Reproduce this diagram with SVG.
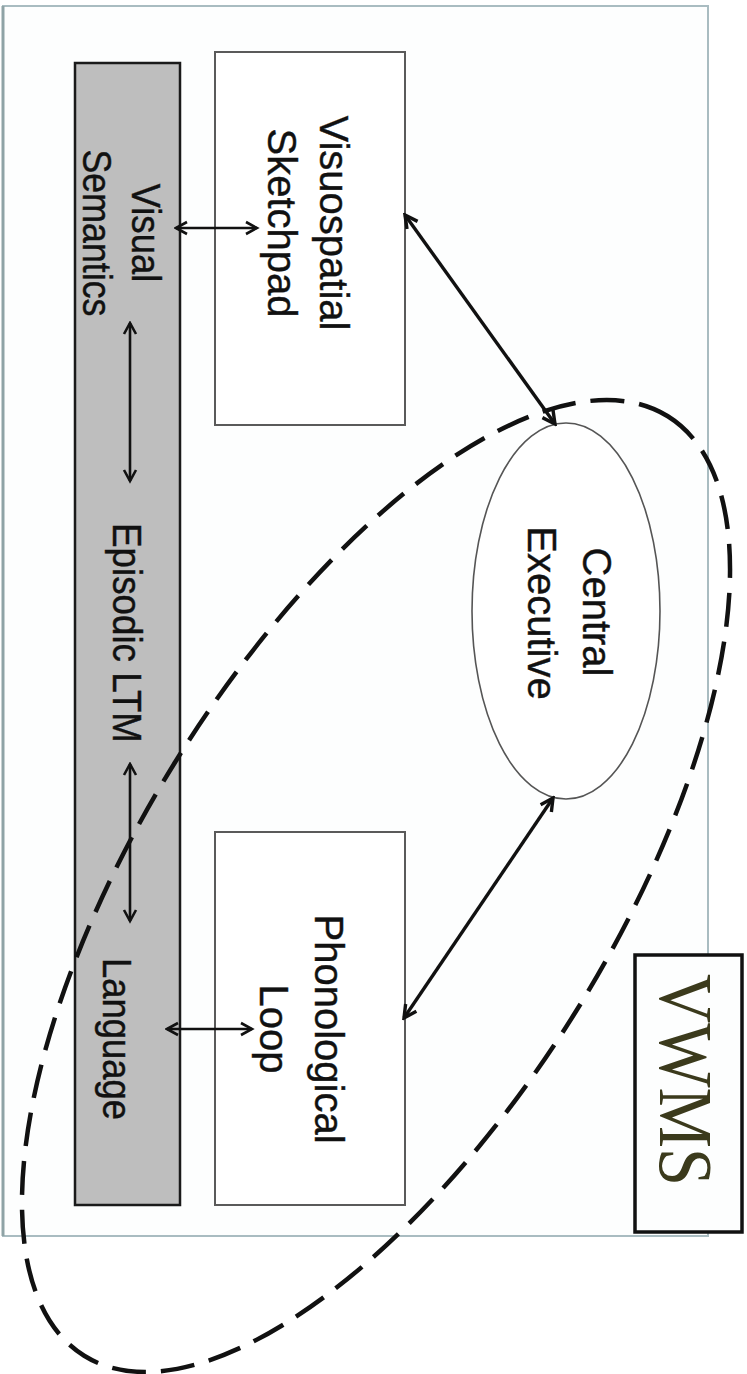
<svg xmlns="http://www.w3.org/2000/svg" width="747" height="1374" viewBox="0 0 747 1374">
<style>
.t{font-family:"Liberation Sans",Arial,sans-serif;font-size:40px;fill:#111;stroke:#111;stroke-width:0.4;text-anchor:middle}
.box{fill:#ffffff;stroke:#5a5a5a;stroke-width:2}
.conn{stroke:#111;fill:none}
</style>
<defs>
<marker id="ah" viewBox="0 0 16 16" refX="13.5" refY="8" markerWidth="16" markerHeight="16" orient="auto-start-reverse" markerUnits="userSpaceOnUse">
<path d="M2.5,2 L13.5,8 L2.5,14" fill="none" stroke="#111" stroke-width="2.6"/>
</marker>
<marker id="ahb" viewBox="0 0 18 18" refX="15.5" refY="9" markerWidth="18" markerHeight="18" orient="auto-start-reverse" markerUnits="userSpaceOnUse">
<path d="M3,2.5 L15.5,9 L3,15.5" fill="none" stroke="#111" stroke-width="3.4"/>
</marker>
</defs>
<rect width="747" height="1374" fill="#ffffff"/>
<g id="frame">
<rect x="3" y="6" width="705" height="1230" fill="#fdfefe" stroke="#a9bcc1" stroke-width="2"/>
<line x1="3" y1="6" x2="3" y2="1236" stroke="#8fa3a6" stroke-width="3"/>
</g>
<g id="ltm">
<rect x="75" y="63" width="105" height="1142" fill="#bebebe" stroke="#1a1a1a" stroke-width="2.5"/>
<text class="t" textLength="99" lengthAdjust="spacingAndGlyphs" transform="translate(132,233) rotate(90)">Visual</text>
<text class="t" textLength="167" lengthAdjust="spacingAndGlyphs" transform="translate(83,233) rotate(90)">Semantics</text>
<text class="t" textLength="220" lengthAdjust="spacingAndGlyphs" transform="translate(113,633) rotate(90)">Episodic LTM</text>
<text class="t" textLength="162" lengthAdjust="spacingAndGlyphs" transform="translate(103,1039) rotate(90)">Language</text>
</g>
<g id="vs">
<rect class="box" x="215" y="52" width="190" height="373"/>
<text class="t" transform="translate(320,223) rotate(90)">Visuospatial</text>
<text class="t" transform="translate(268,223) rotate(90)">Sketchpad</text>
</g>
<g id="pl">
<rect class="box" x="215" y="832" width="190" height="373"/>
<text class="t" transform="translate(315,1029) rotate(90)">Phonological</text>
<text class="t" transform="translate(260,1029) rotate(90)">Loop</text>
</g>
<g id="ce">
<ellipse cx="566" cy="611" rx="94" ry="188" fill="#ffffff" stroke="#555" stroke-width="1.6"/>
<text class="t" transform="translate(583,612) rotate(90)">Central</text>
<text class="t" transform="translate(528,613) rotate(90)">Executive</text>
</g>
<g id="vwms">
<rect x="635" y="955" width="107" height="277" fill="#fdfefe" stroke="#111" stroke-width="3.5"/>
<text transform="translate(660,1080) rotate(90)" style="font-family:'Liberation Serif','Times New Roman',serif;font-size:77px;fill:#3b3a1c;text-anchor:middle" textLength="212" lengthAdjust="spacingAndGlyphs">VWMS</text>
</g>
<g id="connectors">
<line class="conn" x1="176" y1="228" x2="257" y2="228" stroke-width="2.4" marker-start="url(#ah)" marker-end="url(#ah)"/>
<line class="conn" x1="130" y1="323" x2="130" y2="481" stroke-width="2.6" marker-start="url(#ah)" marker-end="url(#ah)"/>
<line class="conn" x1="130" y1="764" x2="130" y2="921" stroke-width="2.6" marker-start="url(#ah)" marker-end="url(#ah)"/>
<line class="conn" x1="167" y1="1029" x2="252" y2="1029" stroke-width="2.4" marker-start="url(#ah)" marker-end="url(#ah)"/>
<line class="conn" x1="405" y1="215" x2="555" y2="424" stroke-width="3.4" marker-start="url(#ahb)" marker-end="url(#ahb)"/>
<line class="conn" x1="553" y1="798" x2="404" y2="1018" stroke-width="3.4" marker-start="url(#ahb)" marker-end="url(#ahb)"/>
</g>
<g id="wm-boundary">
<ellipse cx="376" cy="886" rx="553" ry="236" transform="rotate(-58.15 376 886)" fill="none" stroke="#111" stroke-width="4.5" stroke-dasharray="34 15"/>
</g>
</svg>
